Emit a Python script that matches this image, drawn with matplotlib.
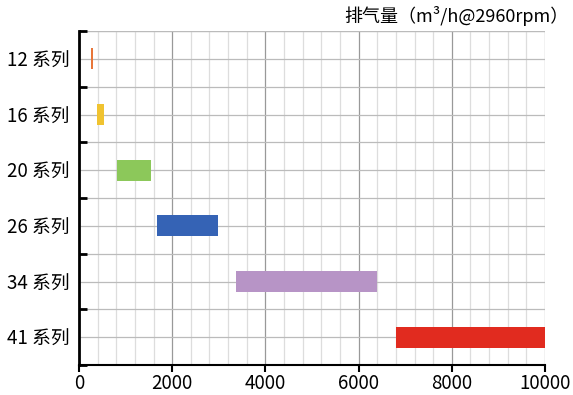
import matplotlib; matplotlib.use("Agg")
import matplotlib.pyplot as plt
import numpy as np

plt.rcParams['font.family'] = ['Noto Sans CJK SC', 'DejaVu Sans']

series = ["12 系列", "16 系列", "20 系列", "26 系列", "34 系列", "41 系列"]
low = [260, 390, 810, 1680, 3370, 6800]
high = [300, 540, 1550, 2980, 6400, 10000]
colors = ["#E8763A", "#F0C330", "#8CC85A", "#3563B5", "#B794C6", "#E12B1F"]
title = "排气量（m³/h@2960rpm）"

fig = plt.figure(figsize=(5.73, 3.95), dpi=100)
ax = fig.add_axes([79/573, 1-365/395, (545-79)/573, (365-31)/395])

y = np.arange(len(series))
ax.barh(y, np.array(high)-np.array(low), left=low, height=0.38, color=colors, zorder=3)

ax.set_xlim(0, 10000)
ax.set_ylim(len(series)-0.5, -0.5)

ax.set_xticks(range(0, 10001, 2000))
ax.set_xticks(range(0, 10001, 400), minor=True)
ax.set_yticks(np.arange(-0.5, len(series)))
ax.set_yticklabels([])
ax.set_yticks(y, minor=True)
ax.set_yticklabels(series, minor=True, fontsize=13.5)

ax.tick_params(axis="x", which="major", direction="out", length=5, width=1.5, labelsize=13.5, pad=1)
ax.tick_params(axis="x", which="minor", length=0)
ax.tick_params(axis="y", which="major", direction="in", length=6, width=2)
ax.tick_params(axis="y", which="minor", length=0, pad=7)

ax.grid(which="major", axis="x", color="#999999", lw=0.9, zorder=0)
ax.grid(which="minor", axis="x", color="#dddddd", lw=0.9, zorder=0)
ax.grid(which="both", axis="y", color="#bbbbbb", lw=0.9, zorder=0)

for s in ["top", "right"]:
    ax.spines[s].set_visible(False)
ax.spines["left"].set_linewidth(2)
ax.spines["bottom"].set_linewidth(1.5)
ax.axhline(-0.5, color="#cccccc", lw=0.9, zorder=0)

fig.text(568/573, 1-16/395, title, ha="right", va="center", fontsize=13)

fig.savefig("out.png", dpi=100)
